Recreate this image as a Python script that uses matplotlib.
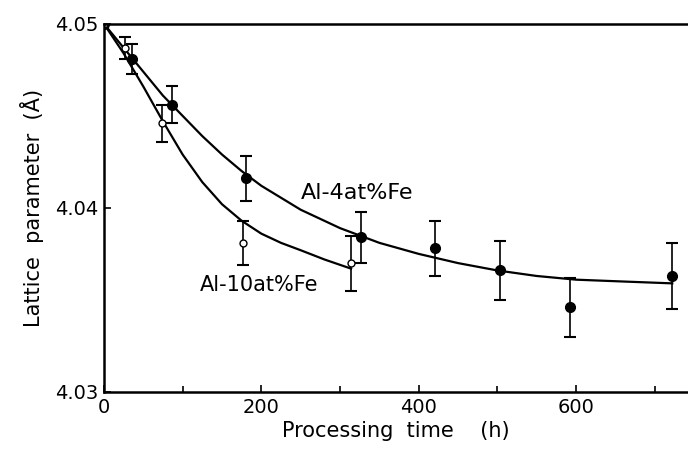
import numpy as np
from matplotlib import pyplot as plt

# Al-4at%Fe (filled symbols)
t4 = [0, 36, 86, 181, 326, 420, 503, 592, 722]
a4 = [4.0500, 4.0481, 4.0456, 4.0416, 4.0384, 4.0378, 4.0366, 4.0346, 4.0363]
e4 = [0.0, 0.0008, 0.0010, 0.0012, 0.0014, 0.0015, 0.0016, 0.0016, 0.0018]

# Al-10at%Fe (open symbols)
t10 = [0, 27, 74, 177, 314]
a10 = [4.0500, 4.0487, 4.0446, 4.0381, 4.0370]
e10 = [0.0, 0.0006, 0.0010, 0.0012, 0.0015]

# fitted curves as drawn in the figure
ct4 = [0, 25, 50, 75, 100, 125, 150, 175, 200, 250, 300, 350, 400, 450, 500,
       550, 600, 660, 722]
cy4 = [4.0500, 4.0487, 4.0474, 4.0461, 4.0450, 4.0439, 4.0429, 4.0420, 4.0412,
       4.0399, 4.0389, 4.0381, 4.0375, 4.0370, 4.0366, 4.0363, 4.0361, 4.0360,
       4.0359]
ct10 = [0, 25, 50, 75, 100, 125, 150, 175, 200, 225, 250, 280, 314]
cy10 = [4.0500, 4.0484, 4.0466, 4.0447, 4.0429, 4.0414, 4.0402, 4.0393, 4.0386,
        4.0381, 4.0377, 4.0372, 4.0367]

plt.rcParams['font.family'] = 'DejaVu Sans'
fig = plt.figure(figsize=(6.88, 4.49), dpi=100)
ax = fig.add_axes([0.151, 0.127, 0.849, 0.820])

ax.plot(ct4, cy4, 'k-', lw=1.6)
ax.plot(ct10, cy10, 'k-', lw=1.6)
ax.errorbar(t4, a4, yerr=e4, fmt='o', color='k', ms=7, elinewidth=1.2,
            capsize=4, capthick=1.5)
ax.errorbar(t10, a10, yerr=e10, fmt='o', color='k', mfc='white', ms=5,
            elinewidth=1.2, capsize=4, capthick=1.5)

ax.text(250, 4.0408, 'Al-4at%Fe', fontsize=16, va='center')
ax.text(122, 4.0358, 'Al-10at%Fe', fontsize=15, va='center')

ax.set_xlim(0, 742)
ax.set_ylim(4.03, 4.05)
ax.set_xticks([0, 200, 400, 600])
ax.set_xticks([100, 300, 500, 700], minor=True)
ax.set_yticks([4.03, 4.04, 4.05])
ax.set_yticklabels(['4.03', '4.04', '4.05'])
ax.tick_params(direction='in', labelsize=14, width=1.2, length=5, pad=4)
ax.tick_params(which='minor', direction='in', width=1.2, length=4)
ax.spines['right'].set_visible(False)
for s in ['left', 'bottom', 'top']:
    ax.spines[s].set_linewidth(1.8)

ax.set_xlabel('Processing  time    (h)', fontsize=15, labelpad=3)
ax.set_ylabel('Lattice  parameter  (Å)', fontsize=15, labelpad=8)

fig.savefig('out.png', dpi=100)
